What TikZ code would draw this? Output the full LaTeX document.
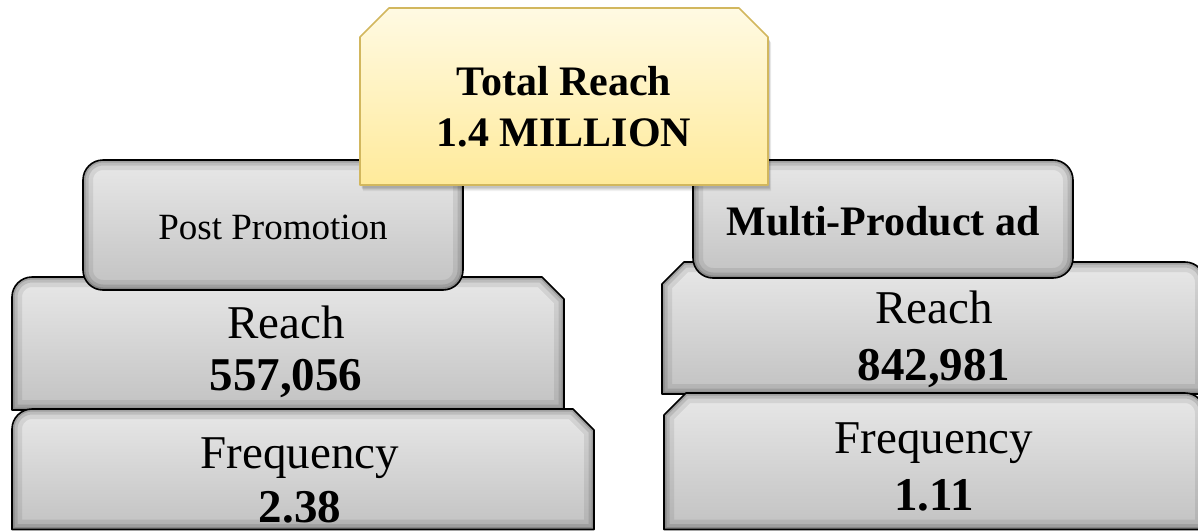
\documentclass[tikz,border=0pt]{standalone}
\usepackage{fontspec}
\setmainfont{Liberation Serif}

\definecolor{gTop}{HTML}{E8E8E8}
\definecolor{gBot}{HTML}{C2C2C2}
\definecolor{yTop}{HTML}{FFFAE3}
\definecolor{yBot}{HTML}{FFEA9A}
\definecolor{yEdge}{HTML}{D2B75E}

% grey bevelled panel: vertical gradient, soft inner shadow, black outline
\newcommand\graypanel[2]{%
  \shade[top color=gTop, bottom color=gBot, #1] #2;
  \begin{scope}
    \clip[#1] #2;
    \draw[black, opacity=0.08, line width=20pt, #1] #2;
    \draw[black, opacity=0.11, line width=11pt, #1] #2;
    \draw[black, opacity=0.15, line width=5pt, #1] #2;
  \end{scope}
  \draw[outline, #1] #2;
}

\begin{document}
\begin{tikzpicture}[x=1pt,y=-1pt,
  outline/.style={draw=black, line width=1.6pt, line join=round},
  lbl/.style={anchor=base, inner sep=0pt, font=\fontsize{47}{52}\selectfont},
  num/.style={anchor=base, inner sep=0pt, font=\fontsize{47}{52}\selectfont\bfseries},
  head/.style={anchor=base, inner sep=0pt, font=\fontsize{42}{48}\selectfont\bfseries},
  sub/.style={anchor=base, inner sep=0pt, font=\fontsize{37}{42}\selectfont},
]
\useasboundingbox (0,0) rectangle (1198,531);
\clip (0,0) rectangle (1198,531);

% panel outlines
\def\pLR{(12,410) -- (12,297) .. controls (12,286) and (21,277) .. (32,277) -- (542,277) -- (564,299) -- (564,410) -- cycle}
\def\pLF{(12,529.5) -- (12,429) .. controls (12,418) and (21,409) .. (32,409) -- (573,409) -- (594,430) -- (594,529.5) -- cycle}
\def\pRR{(662,394) -- (662,284) -- (684,262) -- (1185,262) .. controls (1196,262) and (1205,271) .. (1205,282) -- (1205,394) -- cycle}
\def\pRF{(664,529.5) -- (664,415) -- (686,393) -- (1185,393) .. controls (1196,393) and (1205,402) .. (1205,413) -- (1205,529.5) -- cycle}
\def\pPP{(83,160) rectangle (463,290)}
\def\pMP{(693,160) rectangle (1073,278)}
\def\pTR{(360,185) -- (360,37) -- (389,8) -- (739,8) -- (768,37) -- (768,185) -- cycle}

% metric panels
\graypanel{}{\pLR}
\graypanel{}{\pRR}
\graypanel{}{\pLF}
\graypanel{}{\pRF}

% campaign headers
\graypanel{rounded corners=20pt}{\pPP}
\graypanel{rounded corners=20pt}{\pMP}

% total reach banner with soft drop shadow
\foreach \d/\o in {6/0.05,5/0.06,4/0.07,3/0.08}{
  \begin{scope}[shift={(\d*0.5,\d)}]
    \fill[black, opacity=\o] \pTR;
  \end{scope}
}
\shade[top color=yTop, bottom color=yBot] \pTR;
\draw[draw=yEdge, line width=1.6pt, line join=round] \pTR;

% texts
\node[head] (total1) at (564,95.7) {Total Reach};
\node[head] (total2) at (564,146.7) {1.4 MILLION};

\node[sub] (post) at (273,239.5) {Post Promotion};
\node[head] (multi) at (883,235) {Multi-Product ad};

\node[lbl] (reachL) at (286,338) {Reach};
\node[num] (reachLv) at (286,390) {557,056};
\node[lbl] (reachR) at (934,323.5) {Reach};
\node[num] (reachRv) at (934,380) {842,981};

\node[lbl] (freqL) at (300,468.5) {Frequency};
\node[num] (freqLv) at (300,522) {2.38};
\node[lbl] (freqR) at (934,453.5) {Frequency};
\node[num] (freqRv) at (934,510) {1.11};
\end{tikzpicture}
\end{document}
